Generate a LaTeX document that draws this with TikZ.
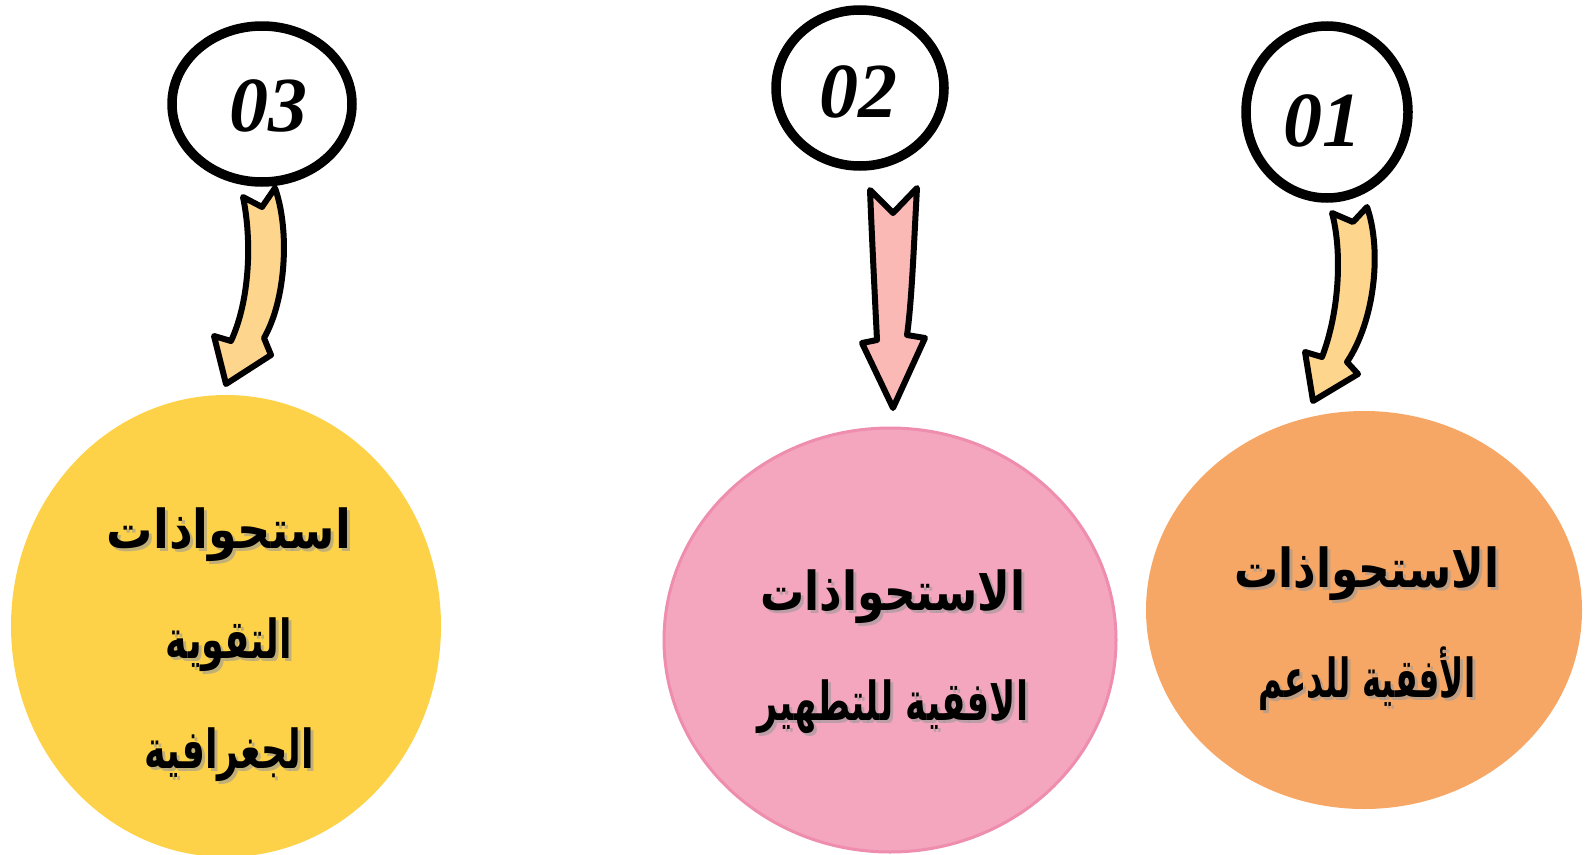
\documentclass[tikz,border=0pt]{standalone}
\usepackage{fontspec}
\usepackage{graphicx}
\setmainfont{Liberation Serif}
\newfontfamily\arabicfont[Script=Arabic]{DejaVu Sans}
\TeXXeTstate=1
\usetikzlibrary{shapes.geometric}
\definecolor{ylw}{RGB}{253,210,72}
\definecolor{pnkfill}{RGB}{245,166,191}
\definecolor{pnkline}{RGB}{238,141,173}
\definecolor{org}{RGB}{246,167,101}
\definecolor{arrY}{RGB}{253,213,141}
\definecolor{arrP}{RGB}{251,185,181}
\newcommand\arl[2]{\scalebox{#1}[1.22]{#2}}
\tikzset{
  numcircle/.style={ellipse, draw=black, line width=9.5pt, fill=white, inner sep=0pt},
  numtext/.style={font=\bfseries\itshape\fontsize{78}{78}\selectfont},
  blob/.style={ellipse, inner sep=0pt},
  arabic/.style={align=center, font=\arabicfont\bfseries\fontsize{44}{110}\selectfont},
  shadowtxt/.style={arabic, text=black!40, opacity=0.6},
  fatarrow/.style={draw=black, line width=6pt, line join=round},
}
\begin{document}
\begin{tikzpicture}[x=1pt,y=-1pt]
\useasboundingbox (0,0) rectangle (1592,854);
% big ellipses
\node[blob, fill=ylw, minimum width=430, minimum height=462] (e3) at (226,626) {};
\node[blob, fill=pnkfill, draw=pnkline, line width=3pt, minimum width=452, minimum height=424] (e2) at (890,640) {};
\node[blob, fill=org, minimum width=436, minimum height=398] (e1) at (1364,610) {};
% number circles
\node[numcircle, minimum width=180, minimum height=156] (c3) at (262,104) {};
\node[numtext] (n3) at (268,106) {03};
\node[numcircle, minimum width=168, minimum height=156] (c2) at (860,88) {};
\node[numtext] (n2) at (858,92) {02};
\node[numcircle, minimum width=162, minimum height=172] (c1) at (1327,112) {};
\node[numtext] (n1) at (1322,121) {01};
% arrows
\draw[fatarrow, fill=arrY] (243,197) -- (262,207) -- (275,188)
  .. controls (290,230) and (286,300) .. (264,338) -- (271,355) -- (226,384) -- (214,336) -- (231,341)
  .. controls (250,300) and (252,240) .. cycle;
\draw[fatarrow, fill=arrP] (870,190) -- (893,213) -- (917,188)
  .. controls (914,240) and (912,300) .. (907,335) -- (925,338) -- (893,408) -- (862,343) -- (877,340)
  .. controls (875,300) and (872,240) .. cycle;
\draw[fatarrow, fill=arrY] (1332,213) -- (1353,222) -- (1367,207)
  .. controls (1382,250) and (1375,320) .. (1347,362) -- (1358,374) -- (1313,401) -- (1305,352) -- (1322,357)
  .. controls (1340,310) and (1342,250) .. cycle;
% texts (shadow + text)
\node[shadowtxt] at (232,648) {\arl{1.05}{\beginR استحواذات\endR}\\ \arl{0.83}{\beginR التقوية\endR}\\ \arl{0.83}{\beginR الجغرافية\endR}};
\node[arabic] (t3) at (229,645) {\arl{1.05}{\beginR استحواذات\endR}\\ \arl{0.83}{\beginR التقوية\endR}\\ \arl{0.83}{\beginR الجغرافية\endR}};
\node[shadowtxt] at (896,655) {\arl{1.0}{\beginR الاستحواذات\endR}\\ \arl{0.8}{\beginR الافقية للتطهير\endR}};
\node[arabic] (t2) at (893,652) {\arl{1.0}{\beginR الاستحواذات\endR}\\ \arl{0.8}{\beginR الافقية للتطهير\endR}};
\node[shadowtxt] at (1370,632) {\arl{1.0}{\beginR الاستحواذات\endR}\\ \arl{0.74}{\beginR الأفقية للدعم\endR}};
\node[arabic] (t1) at (1367,629) {\arl{1.0}{\beginR الاستحواذات\endR}\\ \arl{0.74}{\beginR الأفقية للدعم\endR}};
\end{tikzpicture}
\end{document}
